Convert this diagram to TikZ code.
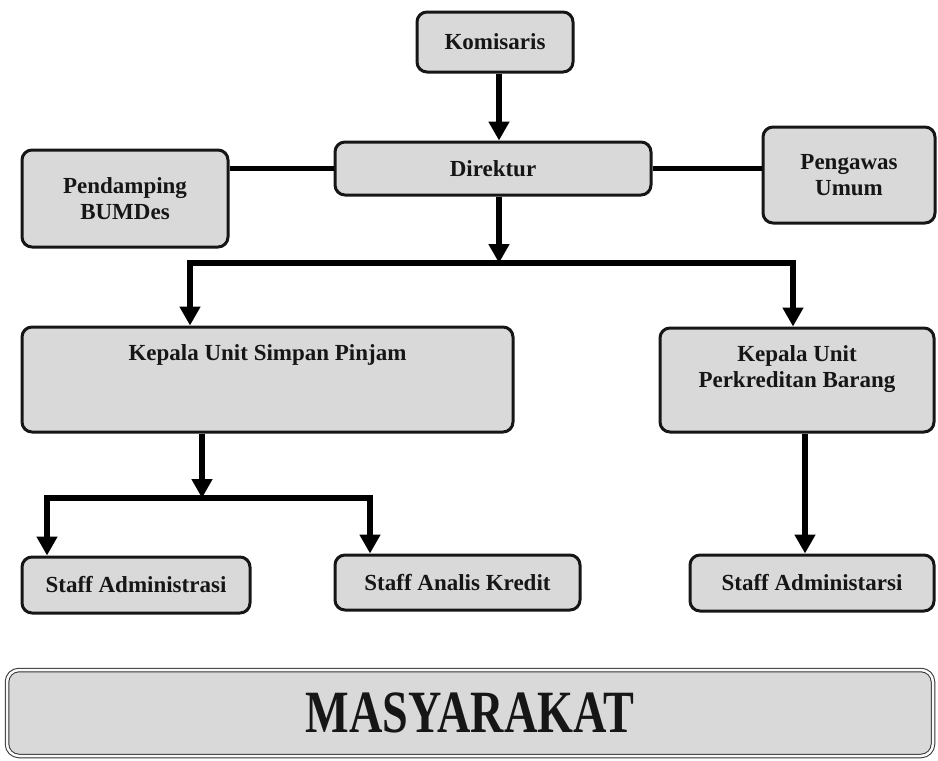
\documentclass[tikz,border=0pt]{standalone}
\usepackage{fontspec}
\setmainfont{Liberation Serif}
\usepackage{graphicx}
\usetikzlibrary{arrows.meta,positioning,calc}

\definecolor{boxgray}{RGB}{217,217,217}
\definecolor{inkdark}{RGB}{22,22,22}

\begin{document}
\begin{tikzpicture}[
  x=1pt, y=-1pt,
  font=\bfseries\fontsize{23}{26.5}\selectfont,
  unit/.style={draw=inkdark, line width=3pt, rounded corners=10pt, fill=boxgray, align=center, inner sep=4pt, text=inkdark},
  link/.style={line width=5.5pt, draw=black},
  arr/.style={link, -{Triangle[width=20pt,length=19pt]}}
]
\useasboundingbox (0,0) rectangle (938,761);

% top level
\node[unit, minimum width=156pt, minimum height=60pt] (kom) at (495,42) {Komisaris};
\node[unit, minimum width=316pt, minimum height=53pt] (dir) at (493,168.5) {Direktur};
\node[unit, minimum width=206pt, minimum height=97pt] (pend) at (125,198.5) {Pendamping\\BUMDes};
\node[unit, minimum width=172pt, minimum height=96pt] (peng) at (849,175) {Pengawas\\Umum};

% unit heads
\node[unit, minimum width=491pt, minimum height=105pt] (ksp) at (267.5,379.5) {Kepala Unit Simpan Pinjam\\~\\~};
\node[unit, minimum width=274pt, minimum height=104pt] (kpb) at (797,380) {Kepala Unit\\Perkreditan Barang\\~};

% staff
\node[unit, minimum width=228pt, minimum height=56pt] (sa1) at (136,585) {Staff Administrasi};
\node[unit, minimum width=245pt, minimum height=55pt] (sak) at (457.5,582.5) {Staff Analis Kredit};
\node[unit, minimum width=244pt, minimum height=56pt] (sa2) at (812,583) {Staff Administarsi};

\node[unit, draw=black!80, line width=1pt, double=white!85!boxgray, double distance=2.5pt, rounded corners=12pt,
  minimum width=926pt, minimum height=86pt, font=\bfseries\fontsize{60}{60}\selectfont] (mas) at (470,713)
  {\scalebox{0.77}[1]{MASYARAKAT}};

% connectors
\coordinate (jtop) at (499,263);
\coordinate (jL) at (190,263);
\coordinate (jR) at (793,263);
\draw[arr] (kom.south -| jtop) -- (dir.north -| jtop);
\draw[link] (dir.west) -- (dir.west -| pend.east);
\draw[link] (dir.east) -- (dir.east -| peng.west);
\draw[arr] (dir.south -| jtop) -- (jtop);
\draw[arr] (jtop) -- (jL) -- (jL |- ksp.north);
\draw[arr] (jtop) -- (jR) -- (jR |- kpb.north);

\coordinate (jmid) at (202,498);
\coordinate (jl2) at (47,498);
\coordinate (jr2) at (370,498);
\draw[arr] (ksp.south -| jmid) -- (jmid);
\draw[arr] (jmid) -- (jl2) -- (jl2 |- sa1.north);
\draw[arr] (jmid) -- (jr2) -- (jr2 |- sak.north);
\draw[arr] ([xshift=8pt]kpb.south) -- ([xshift=8pt]kpb.south |- sa2.north);
\end{tikzpicture}
\end{document}
